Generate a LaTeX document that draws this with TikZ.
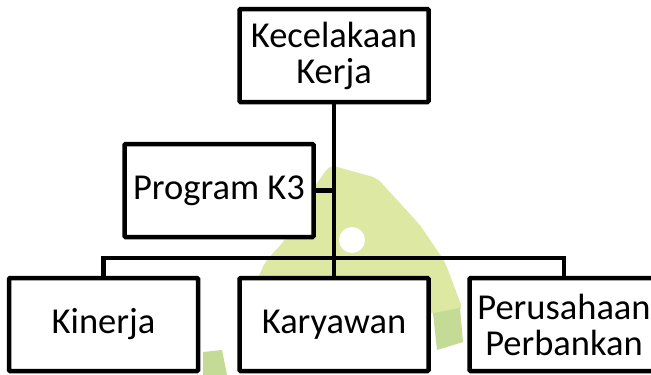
\documentclass[tikz,border=0pt]{standalone}
\usepackage{fontspec}
\setmainfont{Carlito}
\definecolor{wmpale}{HTML}{DDE8A2}
\definecolor{wmdark}{HTML}{C4DB96}
\tikzset{
  box/.style={draw=black, line width=4.5pt, rounded corners=1pt, fill=white,
    minimum width=189pt, minimum height=93pt, inner sep=0pt, align=center,
    font=\fontsize{36.5}{36}\selectfont},
  link/.style={draw=black, line width=4.5pt},
}
\begin{document}
\begin{tikzpicture}[x=1pt,y=-1pt]
\clip (0,0) rectangle (651,375);
\fill[white] (0,0) rectangle (651,375);
% faint watermark
\fill[wmpale, rounded corners=6pt] (330,165) -- (377,178) -- (420,225) -- (445,262)
  -- (463,310) -- (433,313) -- (334,330) -- (255,285) -- (265,262) -- (285,240)
  -- (312,190) -- cycle;
\fill[white] (352,240) circle[radius=13];
\fill[wmdark] (433,313) -- (460,308) -- (463,342) -- (437,350) -- cycle;
\fill[wmdark] (203,352) -- (222,350) -- (227,375) -- (203,375) -- cycle;
% boxes
\node[box] (top) at (334,55.5) {Kecelakaan\\Kerja};
\node[box] (prog) at (219,190.5) {Program K3};
\node[box] (kin) at (103.5,324.5) {Kinerja};
\node[box] (kar) at (334,324.5) {Karyawan};
\node[box] (per) at (564,324.5) {Perusahaan\\Perbankan};
\coordinate (hub) at (334,258);
% connectors
\draw[link] (top.south) -- (kar.north);
\draw[link] (prog.east) -- (prog.east -| top.south);
\draw[link] (kin.north) |- (hub) -| (per.north);
\end{tikzpicture}
\end{document}
